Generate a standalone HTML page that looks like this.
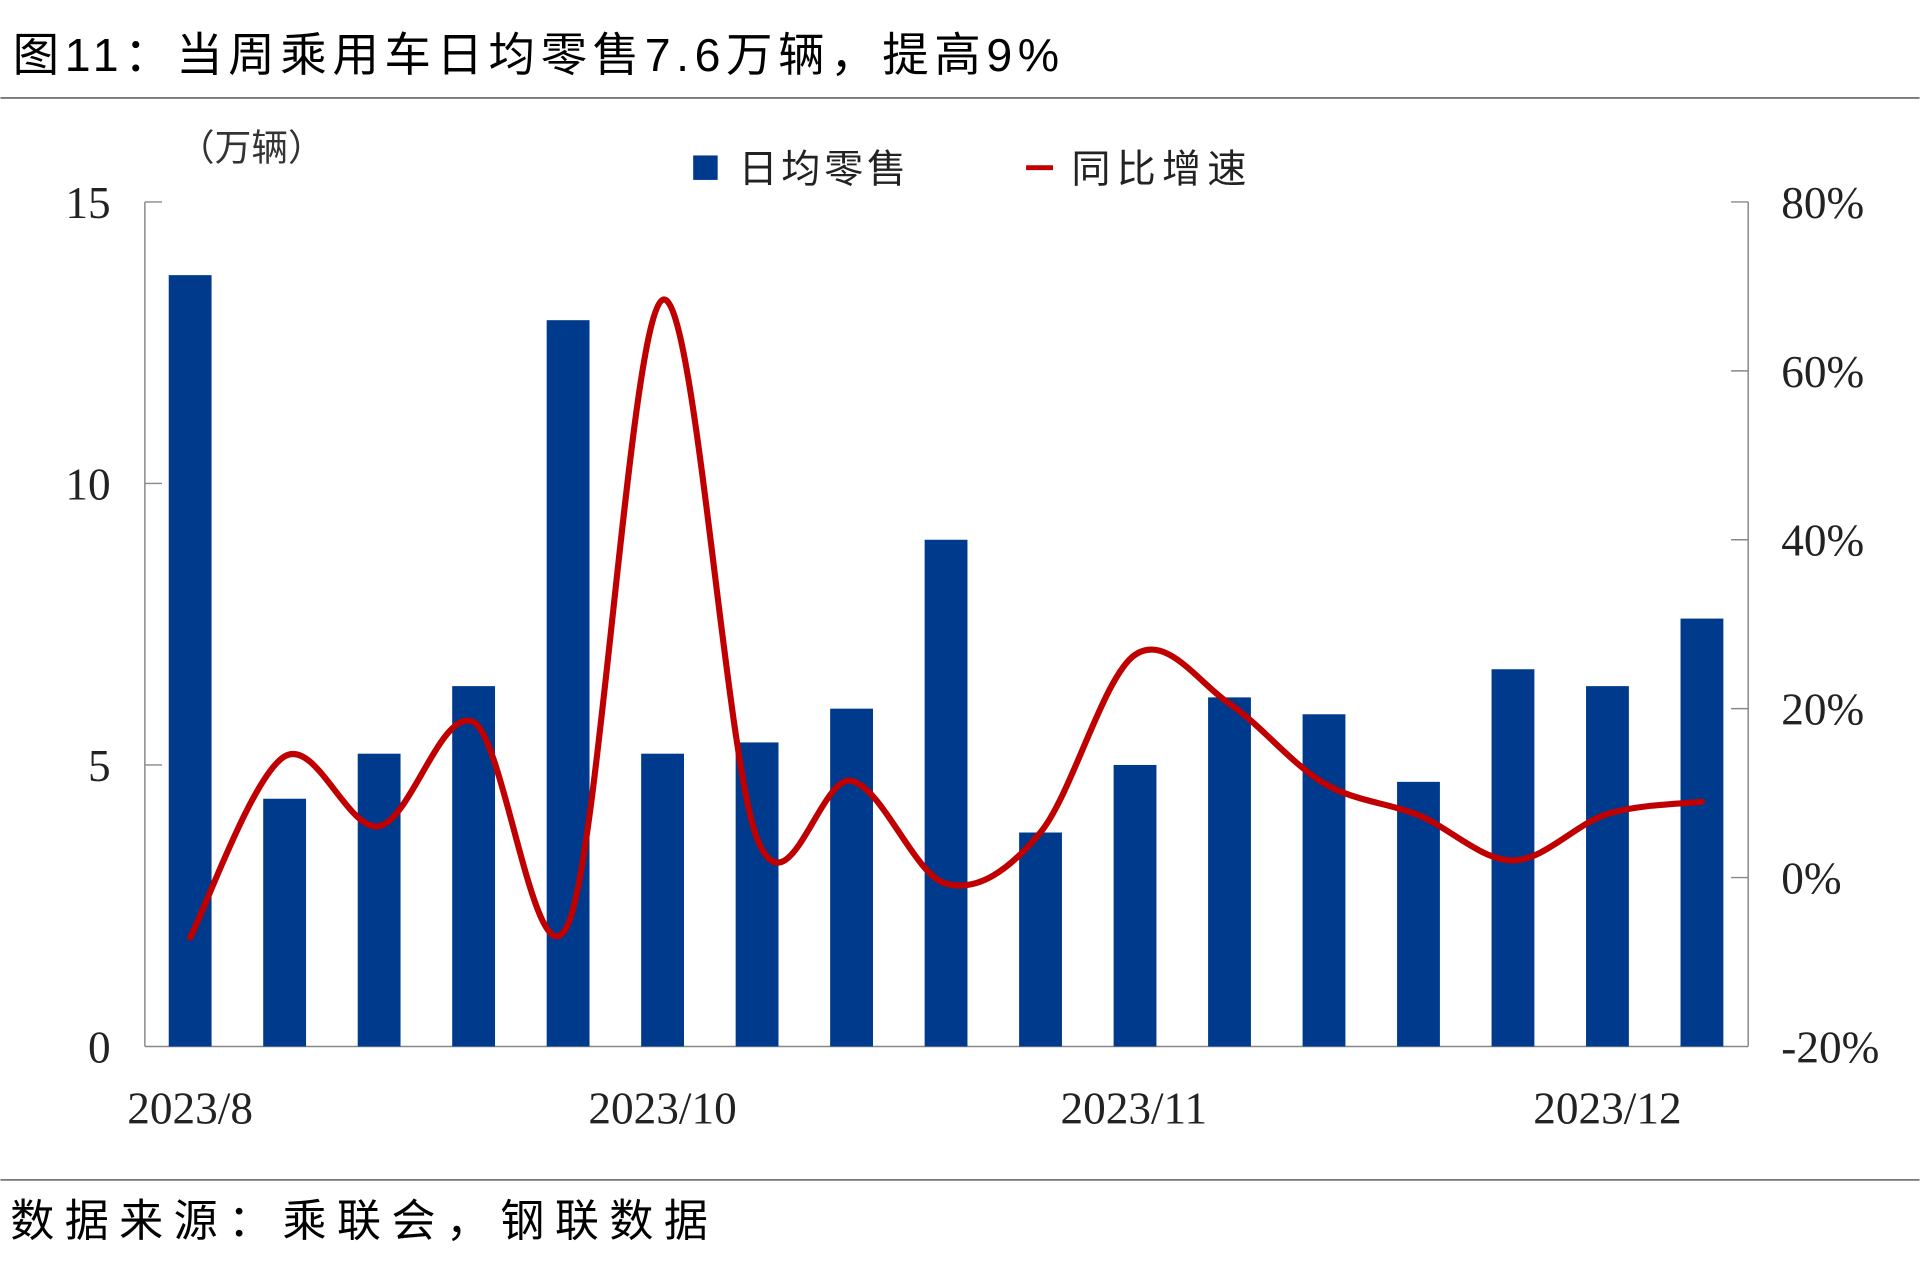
<!DOCTYPE html>
<html><head><meta charset="utf-8"><style>
html,body{margin:0;padding:0;background:#fff;}
svg{display:block;}
text{font-family:"Liberation Serif","Noto Serif CJK SC",serif;}
.cjk{font-family:"Liberation Sans","Noto Sans CJK SC",sans-serif;}
</style></head><body>
<svg id="s" width="1920" height="1279" viewBox="0 0 1568 1045" xmlns="http://www.w3.org/2000/svg">
<rect width="1568" height="1045" fill="#fff"/>
<text class="cjk" x="10" y="58" font-size="38" fill="#000" textLength="855" lengthAdjust="spacing">图11：当周乘用车日均零售7.6万辆，提高9%</text>
<line x1="0" y1="80" x2="1568" y2="80" stroke="#777" stroke-width="1.5"/>
<line x1="0" y1="964" x2="1568" y2="964" stroke="#777" stroke-width="1.5"/>
<text class="cjk" x="8" y="1010" font-size="36" fill="#000" textLength="570" lengthAdjust="spacing">数据来源：乘联会，钢联数据</text>
<text class="cjk" x="145" y="131" font-size="30" fill="#333">（万辆）</text>
<rect x="566" y="127" width="20" height="20" fill="#003A8C"/>
<text class="cjk" x="603" y="149" font-size="32" fill="#222" textLength="137" lengthAdjust="spacing">日均零售</text>
<line x1="838" y1="137" x2="860" y2="137" stroke="#C00000" stroke-width="4"/>
<text class="cjk" x="875" y="149" font-size="32" fill="#222" textLength="143" lengthAdjust="spacing">同比增速</text>
<g id="axes" stroke="#888" stroke-width="1.2" fill="none">
<line x1="118" y1="165" x2="118" y2="855"/>
<line x1="1428" y1="165" x2="1428" y2="855"/>
<line x1="118" y1="855" x2="1428" y2="855"/>
<line x1="118" y1="165" x2="132" y2="165"/>
<line x1="118" y1="395" x2="132" y2="395"/>
<line x1="118" y1="625" x2="132" y2="625"/>
<line x1="1414" y1="165" x2="1428" y2="165"/>
<line x1="1414" y1="303" x2="1428" y2="303"/>
<line x1="1414" y1="441" x2="1428" y2="441"/>
<line x1="1414" y1="579" x2="1428" y2="579"/>
<line x1="1414" y1="717" x2="1428" y2="717"/>
</g>
<g font-size="37" fill="#222" text-anchor="end">
<text x="90" y="178">15</text><text x="90" y="408">10</text><text x="90" y="638">5</text><text x="90" y="868">0</text>
</g>
<g font-size="37" fill="#222">
<text x="1455" y="178">80%</text><text x="1455" y="316">60%</text><text x="1455" y="454">40%</text><text x="1455" y="592">20%</text><text x="1455" y="730">0%</text><text x="1455" y="868">-20%</text>
</g>
<g font-size="37" fill="#222" text-anchor="middle">
<text x="155" y="918">2023/8</text><text x="541" y="918">2023/10</text><text x="926" y="918">2023/11</text><text x="1313" y="918">2023/12</text>
</g>
<g id="bars" fill="#003A8C"></g>
<path id="ln" fill="none" stroke="#C00000" stroke-width="5" stroke-linejoin="round" stroke-linecap="round"/>
</svg>
<script>
var xs=[],v=[13.7,4.4,5.2,6.4,12.9,5.2,5.4,6.0,9.0,3.8,5.0,6.2,5.9,4.7,6.7,6.4,7.6];
var ly=[766,618,675,590,755,245,685,638,722,680,535,575,640,666,703,665,655];
var g=document.getElementById('bars'),h='';
for(var i=0;i<17;i++){var x=155+i*77.2;xs.push(x);var t=855-v[i]*46;h+='<rect x="'+(x-17.5)+'" y="'+t+'" width="35" height="'+(855-t)+'"/>';}
g.innerHTML=h;
var d='M'+xs[0]+','+ly[0];
for(var i=0;i<16;i++){var p0=i?i-1:0,p3=i+2<17?i+2:16;
var c1x=xs[i]+(xs[i+1]-xs[p0])/6,c1y=ly[i]+(ly[i+1]-ly[p0])/6;
var c2x=xs[i+1]-(xs[p3]-xs[i])/6,c2y=ly[i+1]-(ly[p3]-ly[i])/6;
d+=' C'+c1x+','+c1y+' '+c2x+','+c2y+' '+xs[i+1]+','+ly[i+1];}
document.getElementById('ln').setAttribute('d',d);
</script>
</body></html>
